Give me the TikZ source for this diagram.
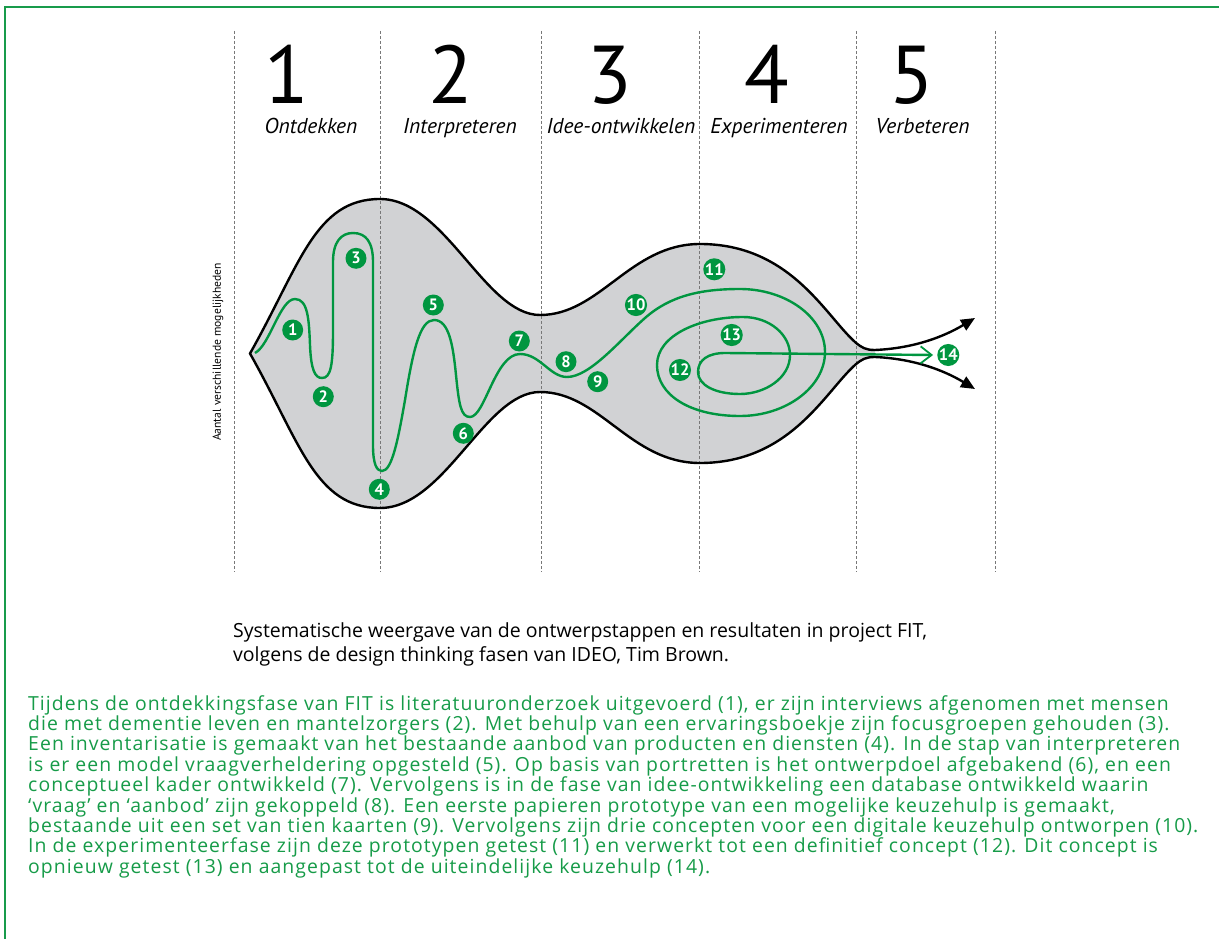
\documentclass[tikz,border=0pt]{standalone}
\usepackage{fontspec}
\setmainfont{PT Sans}
\newfontfamily\parafont[LetterSpace=5.5]{Open Sans}
\newfontfamily\capfont{Open Sans}
\usetikzlibrary{arrows.meta}
\definecolor{fitgreen}{RGB}{0,150,64}
\definecolor{fittext}{RGB}{22,155,72}
\definecolor{framegreen}{RGB}{24,155,75}
\definecolor{blobgray}{RGB}{209,210,212}
\definecolor{dashgray}{RGB}{120,120,120}
\tikzset{
  blobfill/.style={fill=blobgray, draw=none},
  outline/.style={draw=black, line width=2.4pt, line join=miter},
  gpath/.style={draw=fitgreen, line width=2.4pt},
  dashv/.style={draw=dashgray, line width=0.9pt, dash pattern=on 3pt off 2pt},
  numc/.style={circle, fill=fitgreen, text=white, inner sep=0pt, minimum size=21pt,
    font=\bfseries\fontsize{16.5}{16.5}\selectfont},
  bignum/.style={anchor=base, inner sep=0pt, font=\fontsize{82}{82}\selectfont},
  phase/.style={anchor=base, inner sep=0pt, font=\itshape\fontsize{21.5}{22}\selectfont},
  paraline/.style={anchor=base west, inner sep=0pt, text=fittext, font=\parafont\fontsize{19.4}{20}\selectfont},
  capline/.style={anchor=base west, inner sep=0pt, font=\capfont\fontsize{19.5}{20}\selectfont}
}
\begin{document}
\begin{tikzpicture}[x=1pt,y=-1pt]
\useasboundingbox (0,0) rectangle (1219,939);
% frame
\draw[framegreen, line width=2.6pt] (5,939) -- (5,7) -- (1219,7);
% blob fill
\path[blobfill] (250,353.5) .. controls (300,265) and (315,199) .. (380,199)
  .. controls (445,199) and (485,315) .. (540,315)
  .. controls (600,315) and (630,244) .. (700,244)
  .. controls (790,244) and (825,315) .. (855,342)
  .. controls (862,348) and (866,350) .. (875,350)
  -- (875,357)
  .. controls (866,357) and (862,359) .. (855,365)
  .. controls (825,392) and (790,463) .. (700,463)
  .. controls (630,463) and (600,392) .. (540,392)
  .. controls (485,392) and (445,508) .. (380,508)
  .. controls (315,508) and (300,442) .. (250,353.5) -- cycle;
% dashed phase lines
\foreach \xx in {234,380,541,699,856,995}
  \draw[dashv] (\xx,31) -- (\xx,572);
% outline with arrows
\draw[outline, {Triangle[length=14pt,width=12pt]}-{Triangle[length=14pt,width=12pt]}]
  (975,389) .. controls (950,374) and (920,359) .. (875,357)
  .. controls (866,357) and (862,359) .. (855,365)
  .. controls (825,392) and (790,463) .. (700,463)
  .. controls (630,463) and (600,392) .. (540,392)
  .. controls (485,392) and (445,508) .. (380,508)
  .. controls (315,508) and (300,442) .. (250,353.5)
  .. controls (300,265) and (315,199) .. (380,199)
  .. controls (445,199) and (485,315) .. (540,315)
  .. controls (600,315) and (630,244) .. (700,244)
  .. controls (790,244) and (825,315) .. (855,342)
  .. controls (862,348) and (866,350) .. (875,350)
  .. controls (920,348) and (950,333) .. (975,318);
% number circles
\node[numc] (n1) at (292.7,330) {1};
\node[numc] (n2) at (323.3,396.7) {2};
\node[numc] (n3) at (356,258.3) {3};
\node[numc] (n4) at (379.3,489.3) {4};
\node[numc] (n5) at (433.3,305) {5};
\node[numc] (n6) at (463.3,433.3) {6};
\node[numc] (n7) at (519.3,341) {7};
\node[numc] (n8) at (566,361.7) {8};
\node[numc] (n9) at (597.7,381.7) {9};
\node[numc] (n10) at (636,305) {10};
\node[numc] (n11) at (714.3,269.3) {11};
\node[numc] (n12) at (680,370) {12};
\node[numc] (n13) at (731.7,335) {13};
\node[numc] (n14) at (948.3,355) {14};
% green design path
\draw[gpath, -{Straight Barb[length=11pt,width=17pt,line width=1.8pt]}]
  (255,353) .. controls (270,345) and (280,299) .. (295,299)
  .. controls (308,299) and (309,320) .. (310,345)
  .. controls (311,370) and (315,378) .. (322,378)
  .. controls (331,378) and (333,365) .. (333,330)
  -- (333,262)
  .. controls (333,242) and (341,233) .. (353,233)
  .. controls (366,233) and (373,242) .. (373,262)
  -- (373,445)
  .. controls (373,465) and (377,471) .. (382,471)
  .. controls (392,471) and (398,440) .. (405,400)
  .. controls (413,350) and (420,320) .. (434,320)
  .. controls (449,320) and (453,345) .. (456,375)
  .. controls (459,405) and (461,417) .. (470,417)
  .. controls (485,417) and (495,354) .. (520,354)
  .. controls (540,354) and (550,377) .. (567,377)
  .. controls (590,377) and (620,340) .. (645,318)
  .. controls (670,296) and (700,289) .. (740,289)
  .. controls (786,289) and (825,317) .. (825,352)
  .. controls (825,387) and (786,416) .. (740,416)
  .. controls (690,416) and (657,395) .. (657,365)
  .. controls (657,335) and (700,317) .. (743,317)
  .. controls (770,317) and (790,335) .. (790,355)
  .. controls (790,378) and (765,394) .. (740,394)
  .. controls (715,394) and (698,385) .. (698,372)
  .. controls (698,360) and (708,353) .. (725,353)
  -- ([xshift=-4pt]n14.west);
% phase headings
\node[bignum] (d1) at (287,104) {1};
\node[bignum] (d2) at (451,104) {2};
\node[bignum] (d3) at (610,104) {3};
\node[bignum] (d4) at (767,104) {4};
\node[bignum] (d5) at (911.5,104) {5};
\node[phase] (p1) at (311,134) {Ontdekken};
\node[phase] (p2) at (460,134) {Interpreteren};
\node[phase] (p3) at (621,134) {Idee-ontwikkelen};
\node[phase] (p4) at (779,134) {Experimenteren};
\node[phase] (p5) at (922.5,134) {Verbeteren};
% axis label
\node[rotate=90, font=\fontsize{11.6}{12}\selectfont, inner sep=0pt] (axl) at (218,352) {Aantal verschillende mogelijkheden};
% caption
\node[capline] (c1) at (233,637) {Systematische weergave van de ontwerpstappen en resultaten in project FIT,};
\node[capline] (c2) at (233,661) {volgens de design thinking fasen van IDEO, Tim Brown.};
% paragraph
\node[paraline] (l1) at (28,710) {Tijdens de ontdekkingsfase van FIT is literatuuronderzoek uitgevoerd (1), er zijn interviews afgenomen met mensen};
\node[paraline] (l2) at (28,730.4) {die met dementie leven en mantelzorgers (2). Met behulp van een ervaringsboekje zijn focusgroepen gehouden (3).};
\node[paraline] (l3) at (28,750.8) {Een inventarisatie is gemaakt van het bestaande aanbod van producten en diensten (4). In de stap van interpreteren};
\node[paraline] (l4) at (28,771.2) {is er een model vraagverheldering opgesteld (5). Op basis van portretten is het ontwerpdoel afgebakend (6), en een};
\node[paraline] (l5) at (28,791.6) {conceptueel kader ontwikkeld (7). Vervolgens is in de fase van idee-ontwikkeling een database ontwikkeld waarin};
\node[paraline] (l6) at (28,812) {‘vraag’ en ‘aanbod’ zijn gekoppeld (8). Een eerste papieren prototype van een mogelijke keuzehulp is gemaakt,};
\node[paraline] (l7) at (28,832.4) {bestaande uit een set van tien kaarten (9). Vervolgens zijn drie concepten voor een digitale keuzehulp ontworpen (10).};
\node[paraline] (l8) at (28,852.8) {In de experimenteerfase zijn deze prototypen getest (11) en verwerkt tot een definitief concept (12). Dit concept is};
\node[paraline] (l9) at (28,873.2) {opnieuw getest (13) en aangepast tot de uiteindelijke keuzehulp (14).};
\end{tikzpicture}
\end{document}
